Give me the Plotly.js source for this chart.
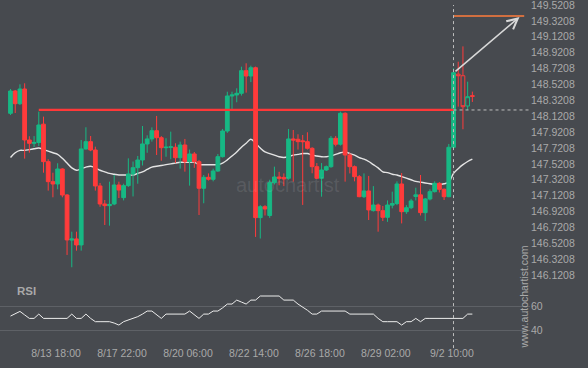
<!DOCTYPE html>
<html><head><meta charset="utf-8">
<script src="https://cdn.plot.ly/plotly-3.0.1.min.js"></script>
<style>html,body{margin:0;padding:0;background:#474a4f;}#chart{width:588px;height:368px;}</style>
</head><body><div id="chart"></div>
<script>
// ---- data (4h candles, index 0..98) ----
const openP = [148.157,148.438,148.278,148.463,147.821,147.779,147.79,148.02,147.548,147.296,
147.267,147.456,147.128,146.56,146.575,146.499,147.708,147.800,147.695,147.242,
147.015,146.994,147.015,147.254,147.095,147.246,147.393,147.472,147.569,147.771,
147.834,147.938,147.850,147.724,147.728,147.729,147.598,147.758,147.548,147.645,
147.548,147.213,147.351,147.326,147.430,147.611,147.934,148.375,148.388,148.409,
148.694,148.627,148.731,146.843,146.981,146.87,147.283,147.355,147.35,147.339,
147.834,147.83,147.81,147.80,147.716,147.485,147.339,147.443,147.485,147.842,
147.767,148.157,147.632,147.485,147.359,147.107,147.179,146.931,147.002,146.931,
146.847,147.00,147.02,147.267,146.918,146.968,147.11,147.13,146.906,147.078,
147.170,147.275,147.200,147.107,147.729,148.65,148.63,148.249,148.38];
const highP = [148.463,148.451,148.522,148.535,147.868,147.87,148.178,148.115,147.578,147.409,
147.528,147.465,147.14,146.666,146.666,147.821,147.981,147.871,147.737,147.28,
147.065,147.296,147.38,147.296,147.27,147.590,147.55,147.62,147.997,147.88,
147.98,148.124,147.87,147.843,147.926,147.78,147.80,147.834,147.70,147.67,
147.57,147.38,147.40,147.46,147.645,147.96,148.429,148.429,148.472,148.744,
148.787,148.757,148.745,147.0,147.00,147.32,147.485,147.42,147.40,147.959,
147.947,147.893,147.884,147.918,147.73,147.53,147.53,147.50,147.871,147.871,
148.178,148.17,147.66,147.50,147.38,147.40,147.368,147.24,147.02,146.99,
147.06,147.17,147.30,147.405,147.0,147.08,147.22,147.38,147.09,147.20,
147.30,147.29,147.21,147.771,148.724,148.807,149.0,148.555,148.43];
const lowP = [148.136,148.161,148.262,147.586,147.661,147.73,147.745,147.409,147.183,147.099,
147.20,147.099,146.373,146.218,146.427,146.427,147.70,147.68,147.183,146.98,
146.750,146.742,147.0,147.09,147.06,147.23,147.11,147.27,147.50,147.66,
147.80,147.632,147.56,147.61,147.578,147.53,147.46,147.422,147.246,147.47,
146.876,147.024,147.31,147.30,147.42,147.60,147.91,148.190,148.296,148.38,
148.417,148.55,146.60,146.58,146.87,146.84,147.26,147.25,147.24,147.32,
147.296,147.70,147.003,147.70,147.402,147.33,147.107,147.43,147.47,147.74,
147.75,147.296,147.40,147.30,147.10,147.09,146.813,146.92,146.666,146.80,
146.79,146.96,147.0,146.77,146.89,146.95,147.06,146.87,146.80,147.06,
147.16,147.16,147.065,147.10,147.72,148.241,147.956,148.199,148.30];
const closeP = [148.438,148.278,148.463,147.821,147.779,147.79,148.010,147.548,147.296,147.267,
147.456,147.128,146.562,146.575,146.499,147.708,147.800,147.695,147.242,147.015,
146.994,147.01,147.254,147.191,147.246,147.393,147.472,147.569,147.771,147.834,
147.938,147.850,147.724,147.73,147.735,147.598,147.758,147.548,147.645,147.548,
147.213,147.351,147.326,147.430,147.611,147.934,148.375,148.388,148.409,148.694,
148.627,148.731,146.843,146.981,146.952,147.283,147.355,147.339,147.33,147.834,
147.820,147.80,147.80,147.716,147.485,147.339,147.443,147.485,147.842,147.767,
148.157,147.632,147.485,147.359,147.107,147.179,146.940,147.002,146.931,146.847,
147.002,147.02,147.267,146.918,146.968,147.053,147.13,146.906,147.078,147.170,
147.275,147.200,147.107,147.729,148.669,148.63,148.24,148.366,148.37];
const maValues = [147.60,147.66,147.69,147.69,147.70,147.71,147.72,147.70,147.68,147.66,
147.64,147.59,147.53,147.47,147.44,147.46,147.48,147.49,147.47,147.44,
147.42,147.40,147.39,147.38,147.38,147.38,147.38,147.40,147.42,147.45,
147.48,147.49,147.50,147.51,147.52,147.53,147.54,147.54,147.54,147.54,
147.51,147.51,147.51,147.51,147.51,147.53,147.57,147.62,147.67,147.73,
147.78,147.83,147.78,147.72,147.67,147.65,147.63,147.61,147.60,147.61,
147.63,147.64,147.65,147.65,147.63,147.62,147.61,147.61,147.62,147.64,
147.66,147.67,147.65,147.63,147.60,147.58,147.55,147.51,147.47,147.42,
147.41,147.39,147.38,147.36,147.34,147.32,147.30,147.29,147.28,147.27,
147.26,147.26,147.27,147.29,147.40,147.46,147.51,147.55,147.58];
const rsiValues = [52,53.7,56,53,50,50,53.7,50,50,50,
50,50,50,53.7,50,50,53.7,50,47.2,47.2,
47.2,47.2,46,44.3,47.2,48.5,50,51.5,53.7,56.3,
56.3,53,50,53.7,53.7,53.7,53.7,53.7,56.3,53,
50,53.7,53.7,56.3,56.3,59,62.3,62.3,65.7,64,
62.3,65.7,65.7,69.2,69.2,69.2,69.2,69.2,65.7,65.7,
65.7,62.3,60,57,53.7,53.7,56.3,56.3,56.3,56.3,
56.3,56.3,53.7,53.7,53.7,53.7,53.7,53.7,50,47.2,
47.2,47.2,47.2,44.3,47.2,47.2,50,47.2,50,50,
50,50,50,50,50,50,50,53.7,53.7];
const tickIndex = [9.65,23.65,37.65,51.65,65.65,79.65,93.65];
const tickLabels = ['8/13 18:00','8/17 22:00','8/20 06:00','8/22 14:00','8/26 18:00','8/29 02:00','9/2 10:00'];
const priceTicks = [149.5208,149.3208,149.1208,148.9208,148.7208,148.5208,148.3208,148.1208,147.9208,147.7208,147.5208,147.3208,147.1208,146.9208,146.7208,146.5208,146.3208,146.1208];
const rsiTicks = [40,60];
const resistanceLevel = 148.199, resistanceStart = 6, breakoutIndex = 94;
const targetLevel = 149.383, targetEnd = 109;
const forecastIdx = [94.1, 108.0], forecastPrice = [148.668, 149.37];
const hollowFrom = 95;

// ---- build ----
const BG = '#474a4f', GREEN = '#17b884', RED = '#ff3b3b';
const idx = openP.map((_, i) => i);
const sl = (a, s, e) => a.slice(s, e);
const yRange = [145.995, 149.584];

const traces = [
  {type:'scatter', mode:'lines', x:idx, y:maValues, xaxis:'x', yaxis:'y',
   line:{color:'#e4e4e4', width:1.4, shape:'spline'}, hoverinfo:'skip'},
  {type:'candlestick', x:sl(idx,0,hollowFrom), open:sl(openP,0,hollowFrom), high:sl(highP,0,hollowFrom),
   low:sl(lowP,0,hollowFrom), close:sl(closeP,0,hollowFrom), xaxis:'x', yaxis:'y3', whiskerwidth:0,
   increasing:{line:{color:GREEN,width:1}, fillcolor:GREEN},
   decreasing:{line:{color:RED,width:1}, fillcolor:RED}},
  {type:'candlestick', x:sl(idx,hollowFrom), open:sl(openP,hollowFrom), high:sl(highP,hollowFrom),
   low:sl(lowP,hollowFrom), close:sl(closeP,hollowFrom), xaxis:'x', yaxis:'y3', whiskerwidth:0,
   increasing:{line:{color:GREEN,width:1}, fillcolor:'rgba(0,0,0,0)'},
   decreasing:{line:{color:RED,width:1}, fillcolor:'rgba(0,0,0,0)'}},
  {type:'scatter', mode:'lines', x:[resistanceStart, breakoutIndex], y:[resistanceLevel, resistanceLevel],
   xaxis:'x', yaxis:'y3', line:{color:'#ff3838', width:2.2}, hoverinfo:'skip'},
  {type:'scatter', mode:'lines', x:[breakoutIndex, 110.23], y:[resistanceLevel, resistanceLevel],
   xaxis:'x', yaxis:'y3', line:{color:'#bdbdbd', width:1, dash:'3px,3px'}, hoverinfo:'skip'},
  {type:'scatter', mode:'lines', x:[breakoutIndex, targetEnd], y:[targetLevel, targetLevel],
   xaxis:'x', yaxis:'y3', line:{color:'#ff7d3b', width:1.5}, hoverinfo:'skip'},
  {type:'scatter', mode:'lines', x:idx, y:rsiValues, xaxis:'x', yaxis:'y2',
   line:{color:'#ececec', width:1}, hoverinfo:'skip'}
];

const FONT = '"Liberation Sans", Arial, sans-serif';
const layout = {
  width:588, height:368,
  margin:{l:0, r:58, t:0, b:23},
  paper_bgcolor:BG, plot_bgcolor:BG,
  showlegend:false, boxgap:0.2, boxgroupgap:0, hovermode:false,
  font:{family:FONT, size:10.5, color:'#a9a9a9'},
  xaxis:{range:[-2.23,110.23], anchor:'y2', showgrid:false, zeroline:false, showline:false,
    ticks:'', tickvals:tickIndex, ticktext:tickLabels, rangeslider:{visible:false},
    tickfont:{family:FONT, size:10.5, color:'#a9a9a9'}},
  yaxis:{domain:[0.174,1], range:yRange, side:'right', anchor:'x', showgrid:false, zeroline:false,
    ticks:'', tickvals:priceTicks, ticktext:priceTicks.map(v => v.toFixed(4)), ticklabeloverflow:'allow',
    tickfont:{family:FONT, size:10.5, color:'#a9a9a9'}},
  yaxis3:{overlaying:'y', range:yRange, side:'right', anchor:'x', showgrid:false, zeroline:false,
    showticklabels:false, ticks:''},
  yaxis2:{domain:[0,0.165], range:[27.2,76], side:'right', anchor:'x', tickvals:rsiTicks,
    showgrid:true, gridcolor:'#5e6166', gridwidth:1, zeroline:false, ticks:'',
    tickfont:{family:FONT, size:10.5, color:'#a9a9a9'}},
  shapes:[
    {type:'line', xref:'x', yref:'paper', x0:breakoutIndex, x1:breakoutIndex, y0:-0.009, y1:0.9855,
     line:{color:'#bdbdbd', width:1, dash:'3px,3px'}}
  ],
  annotations:[
    {xref:'x', yref:'y3', axref:'x', ayref:'y3', x:forecastIdx[1], y:forecastPrice[1],
     ax:forecastIdx[0], ay:forecastPrice[0], text:'', showarrow:true, arrowhead:5, arrowsize:1.3,
     arrowwidth:1.6, arrowcolor:'#d8d8d8', standoff:0, startstandoff:0},
    {xref:'paper', yref:'paper', x:15/530, y:0.1565, xanchor:'left', yanchor:'middle', showarrow:false,
     text:'<b>RSI</b>', font:{family:FONT, size:11.5, color:'#a9a9a9'}},
    {xref:'paper', yref:'paper', x:524.5/530, y:0.139, xanchor:'center', yanchor:'middle', showarrow:false,
     textangle:-90, text:'www.autochartist.com', font:{family:FONT, size:10.5, color:'#a9a9a9'}},
    {xref:'paper', yref:'paper', x:0.543, y:0.4638, xanchor:'center', yanchor:'middle', showarrow:false,
     text:'autochartist', font:{family:FONT, size:20, color:'rgba(255,255,255,0.1)'}}
  ]
};
Plotly.newPlot('chart', traces, layout, {displayModeBar:false, staticPlot:true});
</script></body></html>
